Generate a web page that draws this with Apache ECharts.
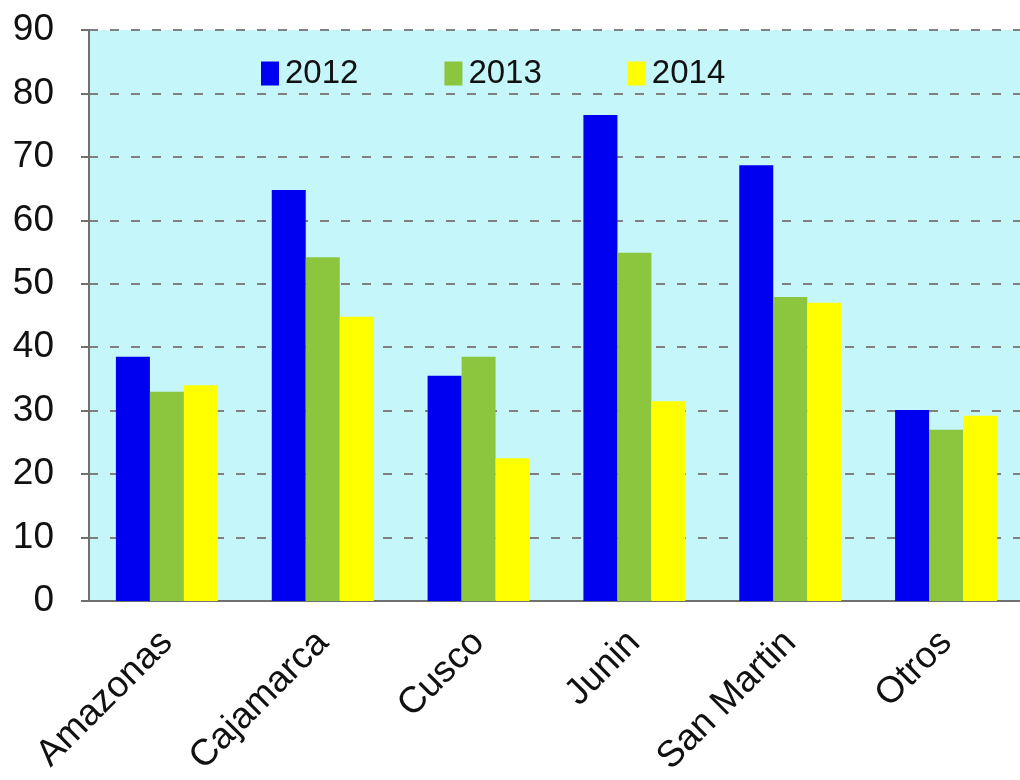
<!DOCTYPE html>
<html>
<head>
<meta charset="utf-8">
<script src="https://cdn.jsdelivr.net/npm/echarts@6/dist/echarts.min.js"></script>
<style>
  html, body { margin: 0; padding: 0; background: #fff; }
  #main { width: 1020px; height: 780px; }
</style>
</head>
<body>
<div id="main"></div>
<script>
// datos
var regiones = ['Amazonas', 'Cajamarca', 'Cusco', 'Junin', 'San Martin', 'Otros']
var anios = ['2012', '2013', '2014']
var v2012 = [38.5, 64.8, 35.5, 76.6, 68.7, 30.1]
var v2013 = [33.0, 54.2, 38.5, 54.9, 47.9, 27.0]
var v2014 = [34.0, 44.8, 22.5, 31.5, 47.0, 29.2]
var colores = ['#0000f0', '#8cc63f', '#ffff00']

var myChart = echarts.init(document.getElementById('main'))

var serie = function (nombre, datos, color) {
  return {
    name: nombre,
    type: 'bar',
    data: datos,
    barWidth: 34,
    barGap: '0%',
    itemStyle: { color: color }
  }
}

var option = {
  animation: false,
  textStyle: { fontFamily: 'Liberation Sans, Arial, sans-serif' },
  grid: {
    left: 89,
    right: -4,
    top: 30,
    bottom: 179,
    outerBoundsMode: 'none',
    containLabel: false,
    show: true,
    backgroundColor: '#c4f6fa',
    borderWidth: 0
  },
  legend: {
    data: anios.map(function (a, i) { return { name: a, itemStyle: { color: colores[i] } } }),
    top: 52,
    left: 256,
    itemWidth: 18,
    itemHeight: 24,
    itemGap: 86,
    icon: 'rect',
    textStyle: { fontSize: 33, color: '#111', padding: [0, 0, 0, 1] }
  },
  xAxis: {
    type: 'category',
    data: regiones,
    axisLine: { lineStyle: { color: '#707070', width: 2 } },
    axisTick: { length: 10, lineStyle: { color: '#707070', width: 2 } },
    axisLabel: {
      rotate: 45,
      margin: 36,
      fontSize: 37,
      color: '#111',
      interval: 0
    }
  },
  yAxis: {
    type: 'value',
    min: 0,
    max: 90,
    interval: 10,
    axisLine: { show: true, lineStyle: { color: '#707070', width: 2 } },
    axisTick: { show: true, length: 8, lineStyle: { color: '#707070', width: 2 } },
    axisLabel: { fontSize: 37, color: '#111', margin: 35 },
    splitLine: { lineStyle: { color: '#808080', width: 2, type: [9, 12] } }
  },
  series: [
    serie(anios[0], v2012, colores[0]),
    serie(anios[1], v2013, colores[1]),
    serie(anios[2], v2014, colores[2])
  ]
}

myChart.setOption(option)
</script>
</body>
</html>
